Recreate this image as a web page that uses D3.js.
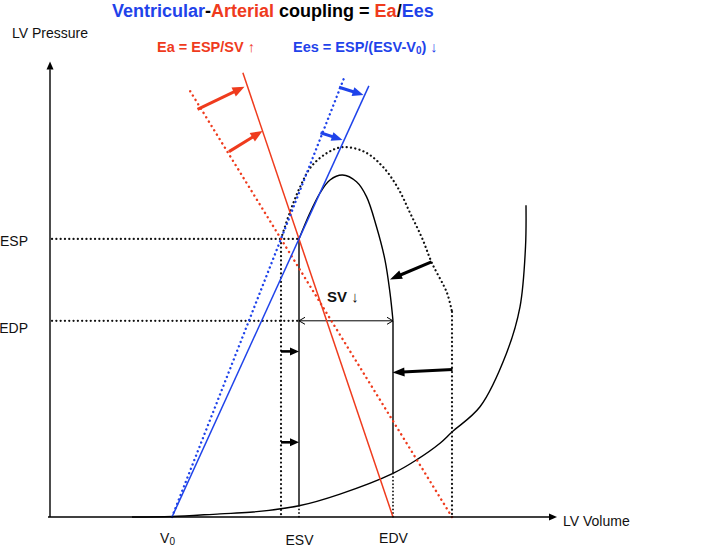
<!DOCTYPE html>
<html>
<head>
<meta charset="utf-8">
<script src="https://cdn.jsdelivr.net/npm/d3@7"></script>
<style>
body { margin: 0; background: #fff; }
text { font-family: "Liberation Sans", Arial, Helvetica, sans-serif; }
</style>
</head>
<body>
<script>
// values, arbitrary volume / pressure units
var V0 = 24.4, ESV = 49.8, ESV_OLD = 46.2, EDV = 68.6, EDV_OLD = 80.4;
var ESP = 61.8, EDP = 43.6;

var volumeTicks = [V0, ESV, EDV];
var volumeLabels = ["V", "ESV", "EDV"];
var pressureTicks = [ESP, EDP];
var pressureLabels = ["ESP", "EDP"];

// end-diastolic pressure-volume relation
var edpvr = [[16.4, 0], [24.4, 0.1], [34, 0.7], [40, 1.05], [49.8, 2.5], [58, 5.1], [68.6, 9.7],
    [73.3, 12.7], [78, 16.4], [80.4, 18.9], [86, 24.5], [91.3, 36.4], [94, 46.7], [95.1, 60], [95.2, 69.3]];

// ejection limb of the new loop (solid) and the old loop (dotted)
var ejection = [[ESV, ESP], [52, 67.6], [54, 72], [56, 74.9], [58.5, 76], [61.3, 74.5], [63.3, 71.2],
    [65.3, 64.5], [67, 57.1], [68, 49.8], [EDV, EDP]];
var ejectionOld = [[ESV_OLD, ESP], [48, 67.8], [50, 73.3], [52.2, 77.8], [55.4, 80.9], [58.6, 82.2],
    [63, 81.1], [66.6, 77.8], [69.6, 73.1], [72, 67.6], [74.4, 62], [76.4, 56.4], [79.4, 49.8], [EDV_OLD, 45.6]];

// Ees / Ea lines: top pressure where each line stops
var eesTops = [95.8, 98];      // new, old
var eaTops = [98.7, 95.3];     // new, old

// shift arrows [v1, p1, v2, p2]
var redArrows = [[29.5, 90.6, 38.9, 95.6], [35.8, 81.2, 42.5, 85.8]];
var blueArrows = [[57.8, 95.5, 62.7, 93.8], [54.1, 85.4, 58.5, 83.8]];
var bigArrows = [[76.3, 56.7, 68, 52.8], [80.5, 32.8, 68.5, 32.1]];
var smallArrows = [[46.2, 36.8, 49.8, 36.8], [46.2, 16.6, 49.8, 16.6]];

var RED = "#ef3b1d", BLUE = "#1f43ea";

var svg = d3.select("body").append("svg").attr("width", 709).attr("height", 548);

var x = d3.scaleLinear().domain([0, 100]).range([50, 550]);
var y = d3.scaleLinear().domain([0, 100]).range([517, 67]);

var line = d3.line().x(function (d) { return x(d[0]); }).y(function (d) { return y(d[1]); });
var smooth = d3.line().x(function (d) { return x(d[0]); }).y(function (d) { return y(d[1]); })
    .curve(d3.curveCatmullRom);

function dots(sel, color, w, gap) {
    sel.attr("fill", "none").attr("stroke", color).attr("stroke-width", w)
        .attr("stroke-linecap", "round").attr("stroke-dasharray", "0.1 " + gap);
}

function solid(sel, color, w) {
    sel.attr("fill", "none").attr("stroke", color).attr("stroke-width", w);
}

function arrow(a, color, w, len, wid) {
    var x1 = x(a[0]), y1 = y(a[1]), x2 = x(a[2]), y2 = y(a[3]);
    var ang = Math.atan2(y2 - y1, x2 - x1), c = Math.cos(ang), s = Math.sin(ang);
    var bx = x2 - len * c, by = y2 - len * s;
    svg.append("line").attr("x1", x1).attr("y1", y1).attr("x2", bx + 2 * c).attr("y2", by + 2 * s)
        .attr("stroke", color).attr("stroke-width", w);
    svg.append("path")
        .attr("d", "M" + x2 + "," + y2 + "L" + (bx - wid / 2 * s) + "," + (by + wid / 2 * c) +
            "L" + (bx + wid / 2 * s) + "," + (by - wid / 2 * c) + "Z")
        .attr("fill", color);
}

// EDPVR
svg.append("path").datum(edpvr).attr("d", smooth).call(solid, "#000", 1.4);

// old loop, dotted
svg.append("path").datum(ejectionOld).attr("d", smooth).call(dots, "#111", 2.2, 4.2);
svg.append("path").datum([[ESV_OLD, ESP], [ESV_OLD, 0]]).attr("d", line).call(dots, "#111", 2.2, 4.2);
svg.append("path").datum([[EDV_OLD, 45.6], [EDV_OLD, 0]]).attr("d", line).call(dots, "#111", 2.2, 4.2);

// new loop, solid
function edpvrAt(v) {
    for (var i = 1; i < edpvr.length; i++) {
        if (edpvr[i][0] >= v) {
            var a = edpvr[i - 1], b = edpvr[i];
            return a[1] + (b[1] - a[1]) * (v - a[0]) / (b[0] - a[0]);
        }
    }
    return 0;
}
svg.append("path").datum(ejection).attr("d", smooth).call(solid, "#000", 1.4);
svg.append("path").datum([[ESV, edpvrAt(ESV)], [ESV, ESP]]).attr("d", line).call(solid, "#000", 1.4);
svg.append("path").datum([[EDV, edpvrAt(EDV)], [EDV, EDP]]).attr("d", line).call(solid, "#000", 1.4);
svg.append("path").datum([[ESV, edpvrAt(ESV)], [ESV, 0]]).attr("d", line).call(dots, "#111", 1.8, 3.5);
svg.append("path").datum([[EDV, edpvrAt(EDV)], [EDV, 0]]).attr("d", line).call(dots, "#111", 1.8, 3.5);

// ESP / EDP guide lines
svg.append("path").datum([[0.4, ESP], [ESV, ESP]]).attr("d", line).call(dots, "#111", 2.2, 4.2);
svg.append("path").datum([[0.4, EDP], [ESV, EDP]]).attr("d", line).call(dots, "#111", 2.2, 4.2);

// SV double arrow
svg.append("path").datum([[ESV, EDP], [EDV, EDP]]).attr("d", line).call(solid, "#000", 1);
svg.append("path").attr("d", "M" + (x(ESV) + 6) + "," + (y(EDP) - 3.5) + "L" + x(ESV) + "," + y(EDP) +
    "L" + (x(ESV) + 6) + "," + (y(EDP) + 3.5)).call(solid, "#000", 1);
svg.append("path").attr("d", "M" + (x(EDV) - 6) + "," + (y(EDP) - 3.5) + "L" + x(EDV) + "," + y(EDP) +
    "L" + (x(EDV) - 6) + "," + (y(EDP) + 3.5)).call(solid, "#000", 1);

// Ea lines (from EDV through end-systolic point)
var eaData = [[EDV, ESV, eaTops[0]], [EDV_OLD, ESV_OLD, eaTops[1]]];
eaData.forEach(function (d, i) {
    var pts = [[d[0], 0], [d[0] + (d[1] - d[0]) * d[2] / ESP, d[2]]];
    var p = svg.append("path").datum(pts).attr("d", line);
    if (i === 0) p.call(solid, RED, 1.5); else p.call(dots, RED, 2.4, 5);
});

// Ees lines (from V0 through end-systolic point)
var eesData = [[ESV, eesTops[0]], [ESV_OLD, eesTops[1]]];
eesData.forEach(function (d, i) {
    var pts = [[V0, 0], [V0 + (d[0] - V0) * d[1] / ESP, d[1]]];
    var p = svg.append("path").datum(pts).attr("d", line);
    if (i === 0) p.call(solid, BLUE, 1.5); else p.call(dots, BLUE, 2.4, 4.6);
});

redArrows.forEach(function (a) { arrow(a, RED, 3, 12, 10); });
blueArrows.forEach(function (a) { arrow(a, BLUE, 3, 11, 9); });
bigArrows.forEach(function (a) { arrow(a, "#000", 3, 12, 9); });
smallArrows.forEach(function (a) { arrow(a, "#000", 2.6, 9, 8); });

// axes
svg.append("line").attr("x1", x(0)).attr("y1", y(0)).attr("x2", x(0)).attr("y2", y(99.5))
    .attr("stroke", "#000").attr("stroke-width", 1.4);
svg.append("path").attr("d", "M" + x(0) + "," + (y(101.2)) + "L" + (x(0) - 3.5) + "," + (y(101.2) + 8) +
    "L" + (x(0) + 3.5) + "," + (y(101.2) + 8) + "Z").attr("fill", "#000");
svg.append("line").attr("x1", x(-0.4)).attr("y1", y(0)).attr("x2", x(100)).attr("y2", y(0))
    .attr("stroke", "#000").attr("stroke-width", 1.4);
svg.append("path").attr("d", "M" + x(101.4) + "," + y(0) + "L" + (x(101.4) - 8) + "," + (y(0) - 3.5) +
    "L" + (x(101.4) - 8) + "," + (y(0) + 3.5) + "Z").attr("fill", "#000");

var xAxis = svg.append("g").attr("transform", "translate(0," + y(0) + ")")
    .call(d3.axisBottom(x).tickValues(volumeTicks).tickSize(0)
        .tickFormat(function (d, i) { return volumeLabels[i]; }));
xAxis.select(".domain").remove();
xAxis.selectAll("text").attr("font-size", 14).attr("font-family", "Liberation Sans, Arial, sans-serif")
    .attr("fill", "#111").attr("dy", 0).attr("y", function (d, i) { return [26, 28, 26][i]; });
xAxis.selectAll("text").filter(function (d, i) { return i === 0; })
    .attr("dx", -5).append("tspan").attr("font-size", 10).attr("dy", 2).text("0");

var yAxis = svg.append("g").attr("transform", "translate(" + x(0) + ",0)")
    .call(d3.axisLeft(y).tickValues(pressureTicks).tickSize(0)
        .tickFormat(function (d, i) { return pressureLabels[i]; }));
yAxis.select(".domain").remove();
yAxis.selectAll("text").attr("font-size", 14).attr("font-family", "Liberation Sans, Arial, sans-serif")
    .attr("fill", "#111").attr("x", -22).attr("dy", function (d, i) { return [7, 12][i]; });

svg.append("text").attr("x", 12).attr("y", 38).attr("font-size", 14).attr("fill", "#111").text("LV Pressure");
svg.append("text").attr("x", 563).attr("y", 526).attr("font-size", 14).attr("fill", "#111").text("LV Volume");

// titles
var title = svg.append("text").attr("x", 112).attr("y", 17).attr("font-size", 18).attr("font-weight", "bold");
[["Ventricular", BLUE], ["-", "#000"], ["Arterial", RED], [" coupling = ", "#000"],
    ["Ea", RED], ["/", "#000"], ["Ees", BLUE]].forEach(function (t) {
    title.append("tspan").attr("fill", t[1]).text(t[0]);
});

svg.append("text").attr("x", 157).attr("y", 52).attr("font-size", 14.5).attr("font-weight", "bold")
    .attr("fill", RED).text("Ea = ESP/SV \u2191");
var ees = svg.append("text").attr("x", 293).attr("y", 52).attr("font-size", 14.5).attr("font-weight", "bold")
    .attr("fill", BLUE);
ees.append("tspan").text("Ees = ESP/(ESV-V");
ees.append("tspan").attr("font-size", 10).attr("dy", 2).text("0");
ees.append("tspan").attr("dy", -2).text(") \u2193");

svg.append("text").attr("x", 327).attr("y", 302).attr("font-size", 15).attr("font-weight", "bold")
    .attr("fill", "#111").text("SV \u2193");
</script>
</body>
</html>
